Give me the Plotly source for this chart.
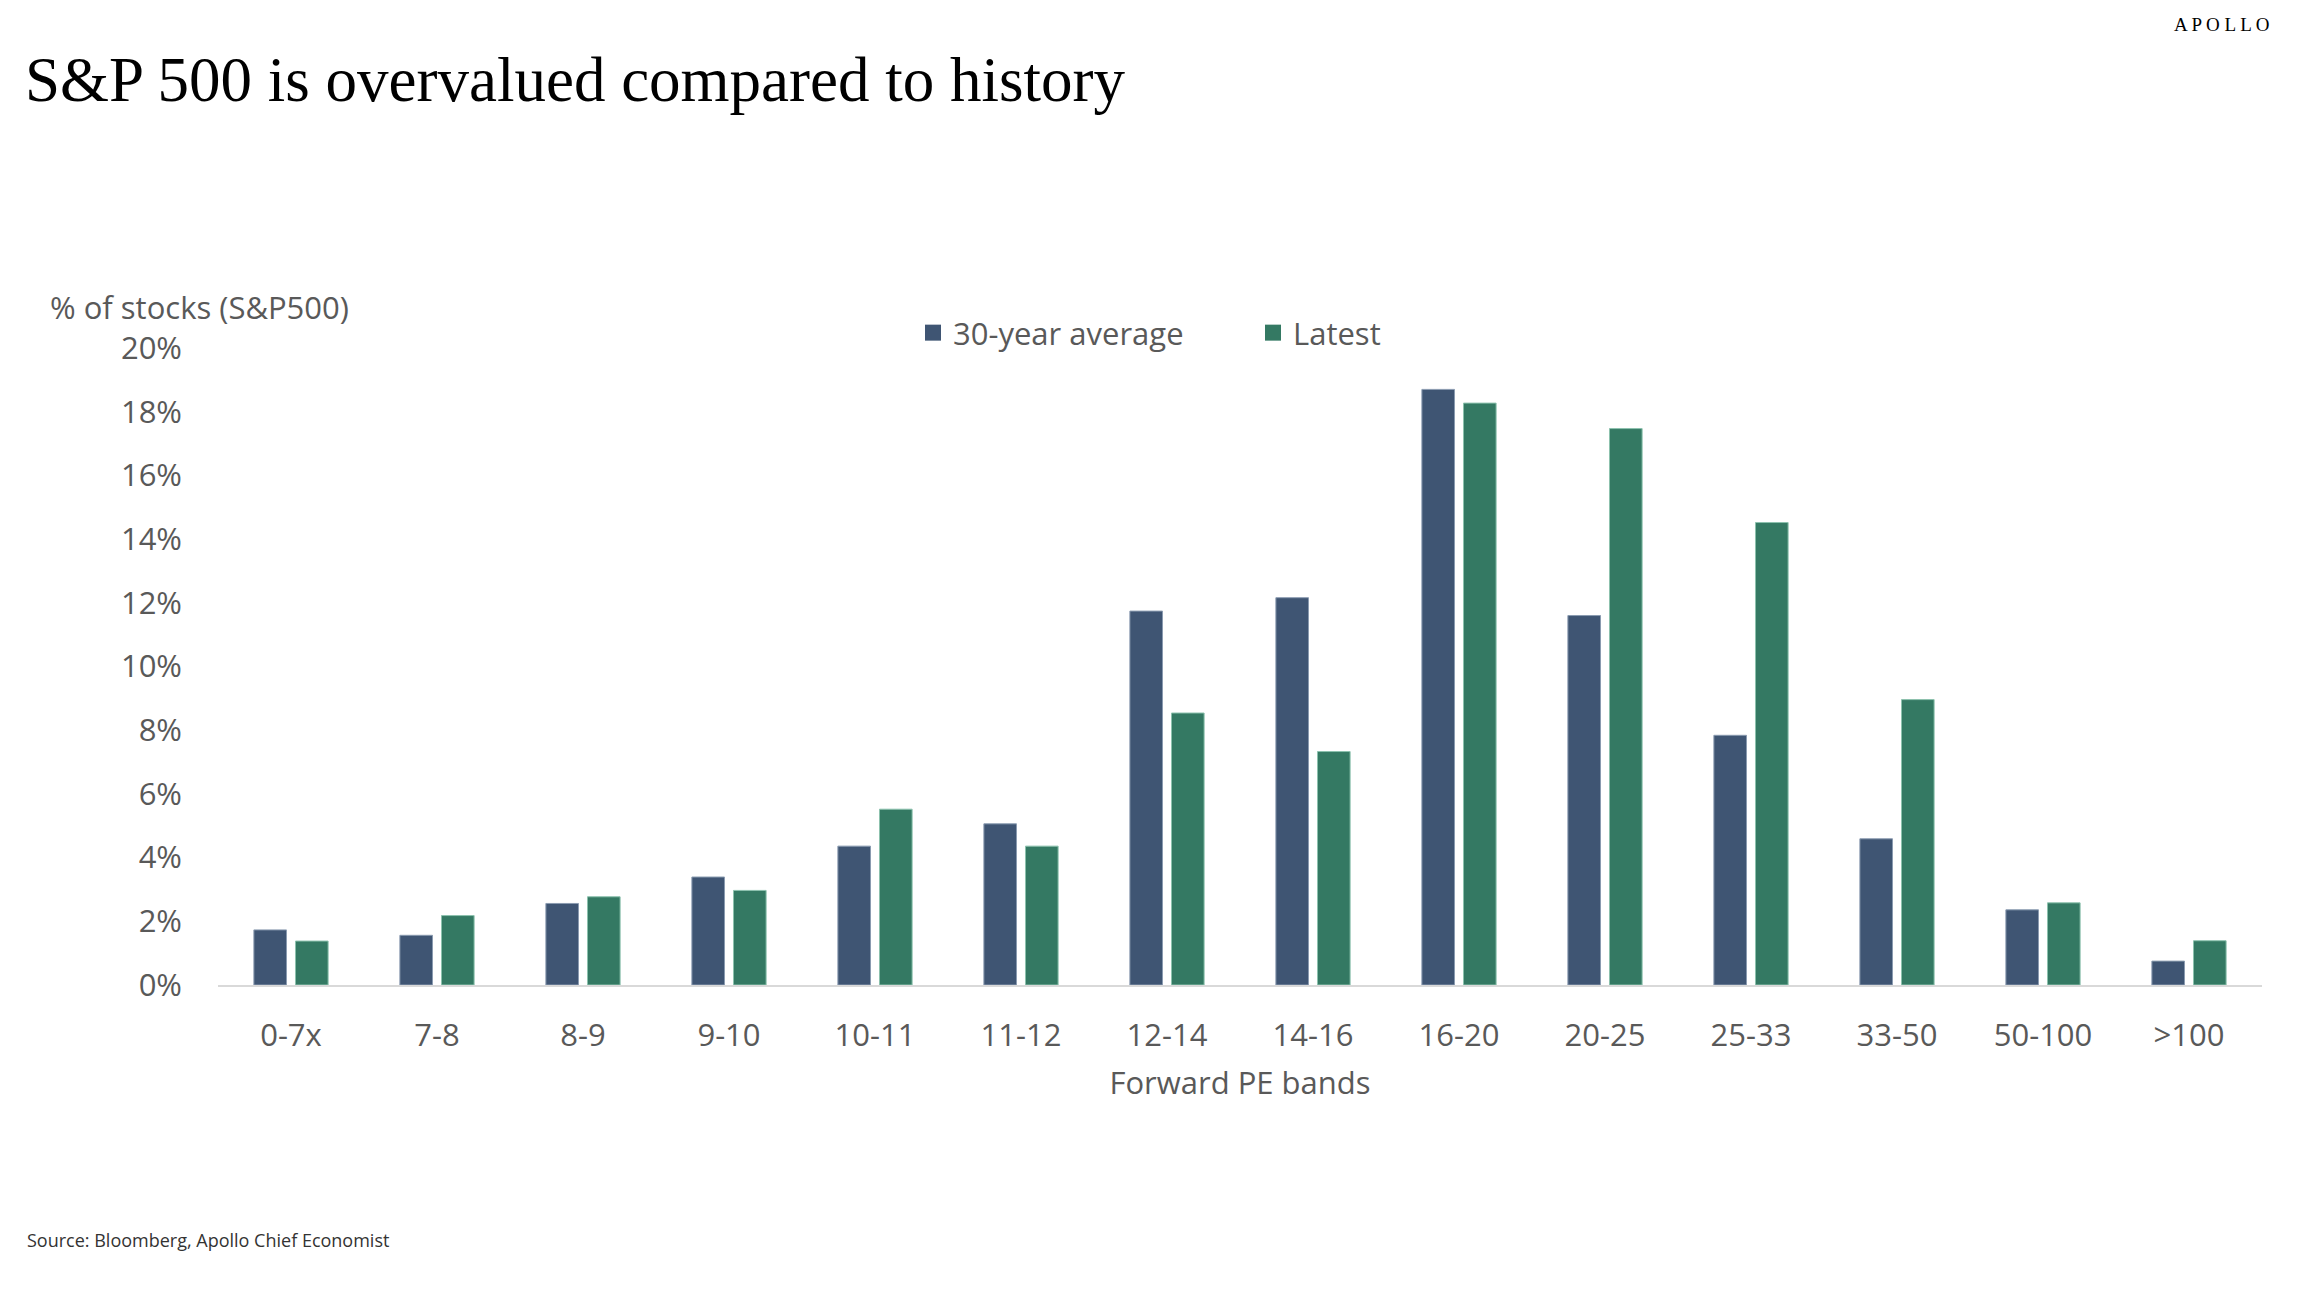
import plotly.graph_objects as go

categories = ["0-7x", "7-8", "8-9", "9-10", "10-11", "11-12", "12-14", "14-16",
              "16-20", "20-25", "25-33", "33-50", "50-100", ">100"]
avg_30y = [1.73, 1.56, 2.56, 3.39, 4.36, 5.06, 11.74, 12.16, 18.70, 11.60, 7.84, 4.59, 2.36, 0.75]
latest = [1.38, 2.18, 2.77, 2.97, 5.52, 4.36, 8.54, 7.33, 18.27, 17.47, 14.52, 8.96, 2.58, 1.39]
y_ticks = [0, 2, 4, 6, 8, 10, 12, 14, 16, 18, 20]
y_ticktext = [f"{v}%" for v in y_ticks]
series_names = ["30-year average", "Latest"]
series_colors = ["#3F5573", "#347963"]
edge_colors = ["#8A9BB0", "#8CC2AE"]

W, H = 2314, 1290
L, R, T, B = 218, 2262, 348, 985
PW, PH = R - L, B - T

def px_x(x):
    return (x - L) / PW

def px_y(y):
    return (B - y) / PH

TEXT = "#595959"
SANS = "Open Sans, Noto Sans, sans-serif"

fig = go.Figure()
for name, vals, col, edge in zip(series_names, [avg_30y, latest], series_colors, edge_colors):
    fig.add_trace(go.Bar(x=categories, y=vals, name=name, legendgroup=name, showlegend=False,
                         marker=dict(color=col, line=dict(color=edge, width=1))))
# legend proxies (larger square swatches, like the reference)
for name, col in zip(series_names, series_colors):
    fig.add_trace(go.Scatter(x=[None], y=[None], mode="markers", name=name, legendgroup=name,
                             marker=dict(symbol="square", size=17, color=col), showlegend=True))

fig.update_layout(
    width=W, height=H, autosize=False,
    margin=dict(l=L, r=W - R, t=T, b=H - B, pad=0),
    paper_bgcolor="white", plot_bgcolor="white",
    barmode="group", bargap=0.43, bargroupgap=0.216,
    font=dict(family=SANS, size=32, color=TEXT),
    title=dict(text="S&P 500 is overvalued compared to history",
               font=dict(family="Liberation Serif, Times New Roman, serif", size=63, color="#000000"),
               x=25 / W, xanchor="left", xref="container",
               y=1 - 79 / H, yanchor="middle", yref="container"),
    legend=dict(orientation="h", x=px_x(913), xanchor="left", y=px_y(333), yanchor="middle",
                font=dict(family=SANS, size=31, color=TEXT), bgcolor="rgba(0,0,0,0)",
                itemsizing="trace", entrywidth=295),
    showlegend=True,
)
fig.update_xaxes(
    type="category", showgrid=False, zeroline=False,
    showline=True, linecolor="#D9D9D9", linewidth=2,
    ticks="", ticklabelstandoff=22,
    tickfont=dict(family=SANS, size=31, color=TEXT),
    title=dict(text="Forward PE bands", font=dict(family=SANS, size=31, color=TEXT), standoff=18),
)
fig.update_yaxes(
    range=[0, 20], tickvals=y_ticks, ticktext=y_ticktext,
    showgrid=False, zeroline=False, showline=False, ticks="",
    ticklabelstandoff=35,
    tickfont=dict(family=SANS, size=31, color=TEXT),
)
fig.add_annotation(text="% of stocks (S&P500)", xref="paper", yref="paper",
                   x=px_x(48), y=px_y(307), xanchor="left", yanchor="middle", showarrow=False,
                   font=dict(family=SANS, size=31, color=TEXT))
fig.add_annotation(text="Source: Bloomberg, Apollo Chief Economist", xref="paper", yref="paper",
                   x=px_x(25), y=px_y(1240), xanchor="left", yanchor="middle", showarrow=False,
                   font=dict(family=SANS, size=18, color="#333333"))
fig.add_annotation(text="A P O L L O", xref="paper", yref="paper",
                   x=px_x(2272), y=px_y(24), xanchor="right", yanchor="middle", showarrow=False,
                   font=dict(family="Liberation Serif, serif", size=19, color="#000000"))

fig.write_html("out.html", config={"displayModeBar": False},
               post_script="document.body.style.margin='0';")
